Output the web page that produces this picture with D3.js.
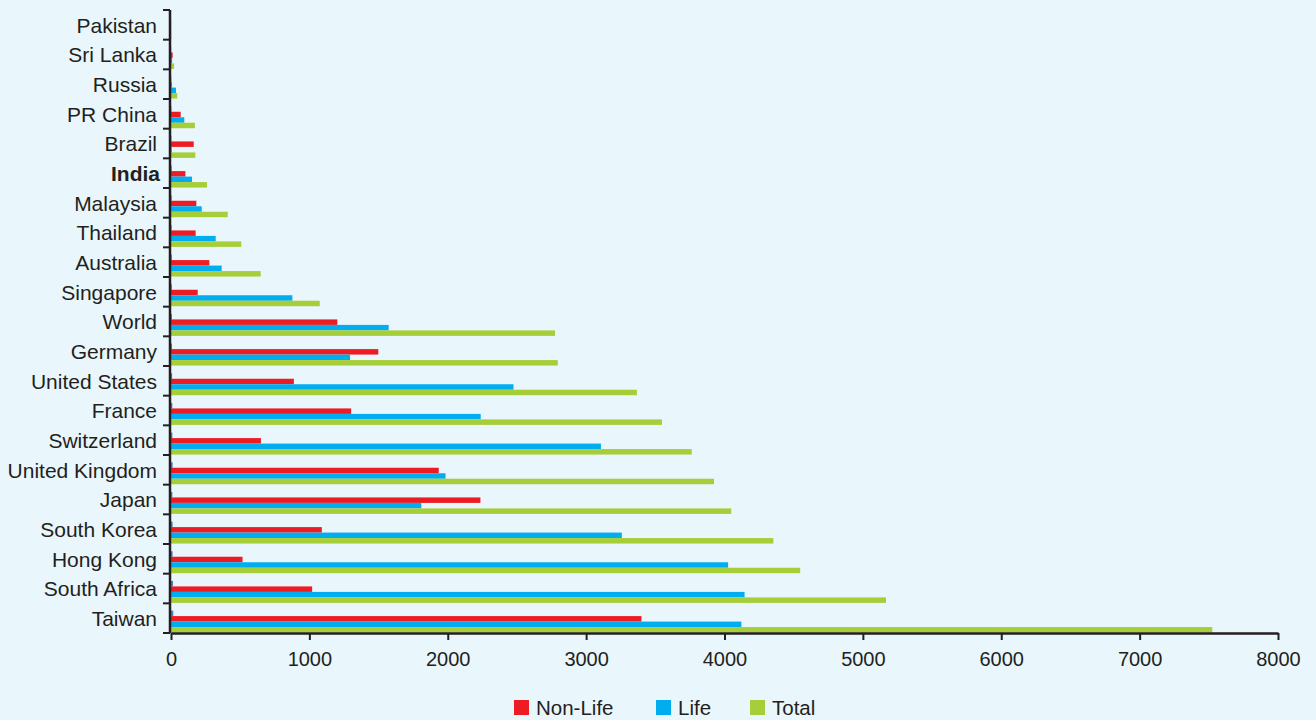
<!DOCTYPE html>
<html>
<head>
<meta charset="utf-8">
<script src="https://cdn.jsdelivr.net/npm/d3@7"></script>
<style>
  html, body { margin: 0; padding: 0; background: #e9f6fc; }
  svg { display: block; font-family: "Liberation Sans", Arial, sans-serif; }
</style>
</head>
<body>
<svg id="chart" width="1316" height="720"></svg>
<script>
// ---- data (top to bottom) ----
const categories = ["Pakistan", "Sri Lanka", "Russia", "PR China", "Brazil", "India", "Malaysia",
  "Thailand", "Australia", "Singapore", "World", "Germany", "United States", "France",
  "Switzerland", "United Kingdom", "Japan", "South Korea", "Hong Kong", "South Africa", "Taiwan"];
const nonLife = [1, 12, 5, 70, 164, 104, 183, 178, 277, 193, 1202, 1498, 888, 1302, 650, 1935, 2236, 1090, 517, 1020, 3400];
const life = [1, 8, 36, 96, 5, 152, 222, 323, 366, 877, 1573, 1294, 2475, 2238, 3107, 1984, 1809, 3258, 4026, 4145, 4122];
const total = [3, 22, 45, 173, 176, 260, 410, 508, 648, 1075, 2775, 2795, 3367, 3548, 3763, 3924, 4049, 4353, 4547, 5167, 7525];
const penetration = [0.7, 1.5, 2.3, 3.0, 3.0, 5.1, 4.8, 4.4, 5.9, 6.1, 6.6, 6.8, 8.1, 9.5, 9.6, 11.8, 9.9, 11.8, 11.7, 14.9, 16.8];
const xTicks = [0, 1000, 2000, 3000, 4000, 5000, 6000, 7000, 8000];
const boldCategory = "India";

const seriesNames = ["Penetration", "Non-Life", "Life", "Total"];
const seriesValues = [penetration, nonLife, life, total];
const seriesColors = ["#4f81bd", "#ed1c24", "#00aeef", "#a6ce39"];
const legendSeries = ["Non-Life", "Life", "Total"];

// ---- layout ----
const svg = d3.select("#chart");
const plotLeft = 171, plotRight = 1278, plotTop = 10, plotBottom = 633;

const x = d3.scaleLinear().domain([0, 8000]).range([plotLeft, plotRight]);
const y = d3.scaleBand().domain(categories).range([plotTop, plotBottom]).paddingInner(0).paddingOuter(0);
const bw = y.bandwidth();
const inner = d3.scaleBand().domain(seriesNames).range([bw * 0.245, bw * 0.985]).padding(0);

// bars
seriesNames.forEach((s, si) => {
  svg.append("g").selectAll("rect")
    .data(categories.map((c, i) => ({ c, v: seriesValues[si][i] })))
    .join("rect")
    .attr("x", x(0))
    .attr("y", d => y(d.c) + inner(s))
    .attr("width", d => Math.max(0, x(d.v) - x(0)))
    .attr("height", inner.bandwidth())
    .attr("fill", seriesColors[si]);
});

// x axis
const xAxis = svg.append("g")
  .attr("transform", `translate(0,${plotBottom})`)
  .call(d3.axisBottom(x).tickValues(xTicks).tickFormat(d3.format("d")).tickSize(7).tickSizeOuter(0));
xAxis.select(".domain").attr("stroke", "#231f20").attr("stroke-width", 2.5);
xAxis.selectAll(".tick line").attr("stroke", "#231f20").attr("stroke-width", 2);
xAxis.selectAll(".tick text").attr("fill", "#231f20").attr("font-size", 20)
  .attr("font-family", "Liberation Sans, Arial, sans-serif").attr("y", 19).attr("dy", "0.71em");

// y axis: line + ticks at band boundaries
const yg = svg.append("g");
yg.append("line").attr("x1", plotLeft - 1).attr("x2", plotLeft - 1).attr("y1", plotTop).attr("y2", plotBottom)
  .attr("stroke", "#231f20").attr("stroke-width", 2.5);
const boundaries = categories.map(c => y(c)).concat([plotBottom]);
yg.selectAll(".yt").data(boundaries).join("line")
  .attr("x1", plotLeft - 8).attr("x2", plotLeft - 1)
  .attr("y1", d => d).attr("y2", d => d)
  .attr("stroke", "#231f20").attr("stroke-width", 2);
yg.selectAll(".yl").data(categories).join("text")
  .attr("x", d => d === boldCategory ? 160 : 157)
  .attr("y", d => y(d) + bw / 2)
  .attr("dy", "0.37em")
  .attr("text-anchor", "end")
  .attr("font-size", 21)
  .attr("font-weight", d => d === boldCategory ? "bold" : "normal")
  .attr("fill", "#231f20")
  .text(d => d);

// legend
const legendX = [514, 656, 750];
const lg = svg.append("g");
legendSeries.forEach((s, i) => {
  const ci = seriesNames.indexOf(s);
  lg.append("rect").attr("x", legendX[i]).attr("y", 700).attr("width", 15).attr("height", 15)
    .attr("fill", seriesColors[ci]);
  lg.append("text").attr("x", legendX[i] + 22).attr("y", 715)
    .attr("font-size", 20.5).attr("fill", "#231f20").text(s);
});
</script>
</body>
</html>
